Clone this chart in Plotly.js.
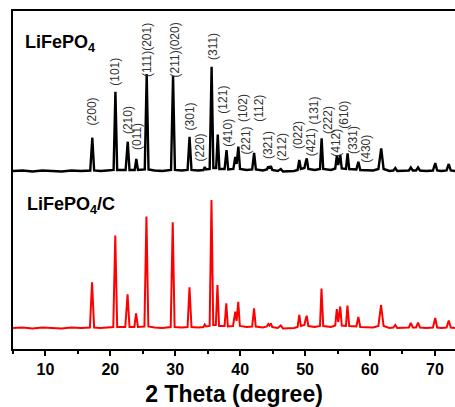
<!DOCTYPE html>
<html>
<head>
<meta charset="utf-8">
<script src="https://cdn.plot.ly/plotly-3.0.1.min.js"></script>
<style>html,body{margin:0;padding:0;background:#fff;}#chart{width:455px;height:407px;}</style>
</head>
<body>
<div id="chart"></div>
<script>
// 2 Theta (degree) and intensity (a.u., stacked)
var blackTheta = [5.0,6.5,8,9.5,11,12.5,14,15.5,16.9,17.22,17.5,18.5,19.5,20.5,20.78,21.05,22.35,22.68,22.95,23.75,24.0,24.25,25.3,25.6,25.88,26.8,28,29.35,29.66,29.95,31,31.9,32.2,32.5,33.5,34.35,34.55,34.75,35.3,35.6,35.87,36.3,36.55,36.8,37.6,37.9,38.15,38.95,39.25,39.45,39.72,39.98,41,41.85,42.15,42.42,43.5,44.1,44.33,44.52,44.72,44.95,45.8,46.26,46.6,47.5,48.3,48.85,49.11,49.35,49.9,50.1,50.26,50.5,51.5,52.3,52.55,52.8,54,54.65,54.89,55.1,55.42,55.65,56.3,56.55,56.8,57.9,58.21,58.5,59.5,60.5,61.3,61.73,62.1,63,63.6,63.9,64.2,65.2,66,66.29,66.6,67.1,67.41,67.7,68.7,69.7,70.06,70.35,71,71.8,72.14,72.45,73.1];
var blackInt = [178,178.5,177.5,178.5,178,177.5,178.5,178,178.5,211.3,178.5,178,178.5,179,257.3,179,179,207.3,179,179,190,179,179.5,275,179.5,178.5,178,179,273.2,179,178.5,179,212.3,179,178.5,179,182,179.5,180,282.3,181,181,214.5,180,180,199,179.5,180,192,185,202.3,180,179,179.5,196,179.5,178.5,179.5,182.5,180.5,183,179,178,180,177.5,177.5,178,179,189,180,181,187,190.7,180,179,180,210.7,180,179,180.5,193,184,194,180.5,180,195.7,180,179.5,187.3,179,178.5,178.5,180,200.7,180,178,178.5,181,178,178.5,178.5,181.5,178.5,178.5,181.5,178.5,178,178.5,186,178.5,178,178.5,185,178.5,178];

var redTheta = [5.0,6.5,8,9.5,11,12.5,14,15.5,16.85,17.18,17.5,18.5,19.5,20.45,20.76,21.05,22.3,22.65,22.95,23.7,23.96,24.25,25.25,25.56,25.85,26.8,28,29.3,29.61,29.9,31,31.9,32.19,32.5,33.5,34.35,34.55,34.75,35.3,35.58,35.85,36.25,36.5,36.75,37.6,37.86,38.1,38.9,39.25,39.45,39.71,39.95,41,41.85,42.14,42.4,43.5,44.1,44.33,44.52,44.72,44.95,45.8,46.26,46.6,47.5,48.3,48.85,49.11,49.35,49.9,50.1,50.26,50.5,51.5,52.3,52.53,52.8,54,54.65,54.89,55.1,55.42,55.65,56.3,56.53,56.8,57.9,58.21,58.5,59.5,60.5,61.3,61.71,62.1,63,63.6,63.9,64.2,65.2,66,66.29,66.6,67.1,67.41,67.7,68.7,69.7,70.06,70.35,71,71.8,72.14,72.45,73.1];
var redInt = [21,21.5,20.5,21.5,21,20.5,21.5,21,21.5,66.7,21.5,21,21.5,22,113.5,22,22,54.7,22,22,35.7,22,22.5,132.5,22.5,21.5,21,22,126.7,22,21.5,22,61.7,22,21.5,22,24.5,22.5,23,149,24,24,64,23,23,45.8,22.5,23,37.3,28,47.2,23,22,22.5,40.7,22.5,21.5,22.5,25,23.5,25.5,22,21,23.5,20.5,20.5,21,22,34,23,24,30,33.3,23,22,23,60.5,23,22,23.5,40,27,42.5,23.5,23,43.5,23,22.5,32,22,21.5,21.5,23,44,23,21,21.5,24,21,21.5,21.5,26,21.5,21.5,26.5,21.5,21,21.5,31,21.5,21,21.5,28.5,21.5,21];

var hklLabels = ["(200)","(101)","(210)","(011)","(111)(201)","(211)(020)","(301)","(220)","(311)","(121)","(410)","(102)","(221)","(112)","(321)","(212)","(022)","(421)","(131)","(222)","(412)","(610)","(331)","(430)"];
var hklTheta  = [17.24,20.68,22.73,24.11,25.65,30.03,32.34,33.88,35.82,37.3,38.1,40.45,40.97,42.87,44.3,46.46,48.92,50.95,51.45,53.54,54.73,55.96,57.4,59.35];
var hklY      = [238,277,229,212,299,299,233,202,302,249,216,241,209,241,204,202,214,207,239,229,206,234,209,200];

var xTickVals = [10,20,30,40,50,60,70];
var sampleNames = ["LiFePO<sub>4</sub>","LiFePO<sub>4</sub>/C"];

var fontFam = "Arial, 'Liberation Sans', sans-serif";

var annotations = hklLabels.map(function(t,i){
  return {x:hklTheta[i], y:hklY[i], xref:'x', yref:'y', text:t, showarrow:false,
    textangle:-90, xanchor:'center', yanchor:'middle',
    font:{family:fontFam, size:12, color:'#333333'}};
});
annotations.push({x:0.023, y:0.905, xref:'paper', yref:'paper', text:sampleNames[0], showarrow:false,
  xanchor:'left', yanchor:'middle', font:{family:fontFam, size:18, color:'#000', weight:'bold'}});
annotations.push({x:0.027, y:0.424, xref:'paper', yref:'paper', text:sampleNames[1], showarrow:false,
  xanchor:'left', yanchor:'middle', font:{family:fontFam, size:18, color:'#000', weight:'bold'}});

var data = [
  {x:blackTheta, y:blackInt, type:'scatter', mode:'lines', line:{color:'#000000', width:2.4}, hoverinfo:'skip'},
  {x:redTheta, y:redInt, type:'scatter', mode:'lines', line:{color:'#ff0000', width:2}, hoverinfo:'skip'}
];

var layout = {
  width:455, height:407,
  margin:{l:13, r:0, t:11, b:58},
  paper_bgcolor:'#fff', plot_bgcolor:'#fff',
  showlegend:false,
  xaxis:{range:[5,73.1], tickvals:xTickVals, ticks:'outside', ticklen:5, tickwidth:2, tickcolor:'#000',
    showline:true, linewidth:2, linecolor:'#000', mirror:true, showgrid:false, zeroline:false,
    minor:{dtick:5, tick0:5, ticks:'outside', ticklen:3, tickwidth:2, tickcolor:'#000', showgrid:false},
    tickfont:{family:fontFam, size:16, color:'#000', weight:'bold'},
    title:{text:'2 Theta (degree)', font:{family:fontFam, size:23, color:'#000', weight:'bold'}, standoff:13}},
  yaxis:{range:[0,338], showticklabels:false, ticks:'', showline:true, linewidth:2, linecolor:'#000',
    showgrid:false, zeroline:false, mirror:false},
  annotations:annotations
};

Plotly.newPlot('chart', data, layout, {staticPlot:true, displayModeBar:false});
</script>
</body>
</html>
